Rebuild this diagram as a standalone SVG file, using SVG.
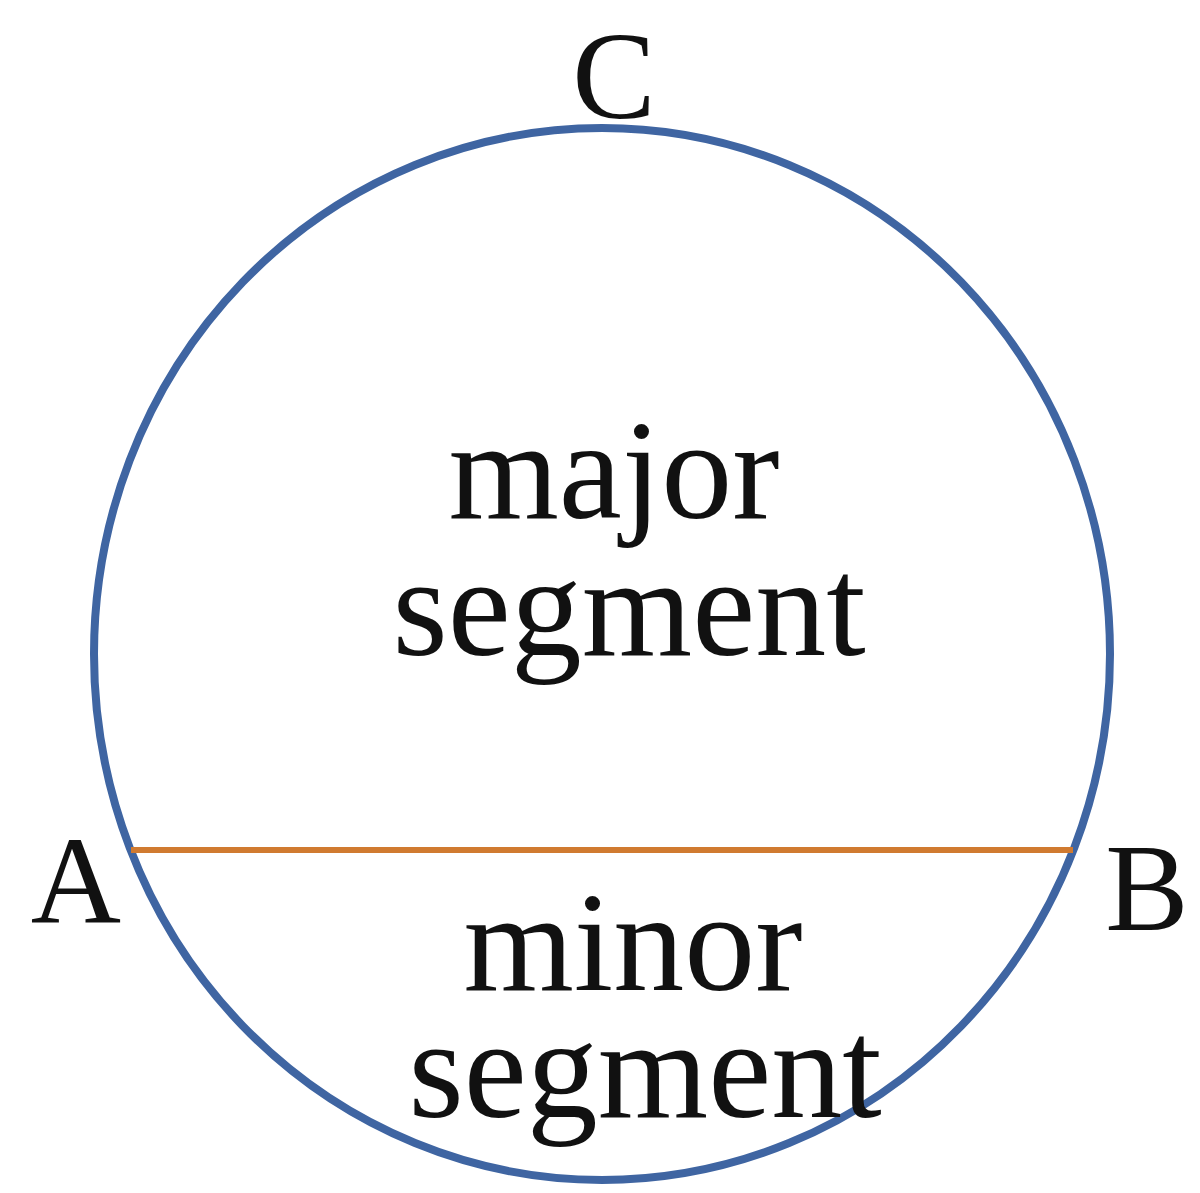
<svg xmlns="http://www.w3.org/2000/svg" width="1200" height="1193" viewBox="0 0 1200 1193">
<style>
.lbl{font-family:"Liberation Serif","DejaVu Serif",serif;fill:#111;text-anchor:middle}
.big{font-size:142px}
.pt{font-size:125px}
</style>
<rect width="1200" height="1193" fill="#fff"/>
<g id="circle">
<ellipse cx="602" cy="654" rx="508" ry="526" fill="none" stroke="#3F65A2" stroke-width="8"/>
</g>
<g id="connectors">
<line x1="131" y1="850" x2="1073" y2="850" stroke="#D07A30" stroke-width="6"/>
</g>
<g id="labels">
<text class="lbl pt" x="614" y="118">C</text>
<text class="lbl pt" x="76" y="923">A</text>
<text class="lbl pt" x="1147" y="930">B</text>
<text class="lbl big" x="614" y="518">major</text>
<text class="lbl big" x="629" y="655">segment</text>
<text class="lbl big" x="633" y="990">minor</text>
<text class="lbl big" x="645" y="1117">segment</text>
</g>
</svg>
